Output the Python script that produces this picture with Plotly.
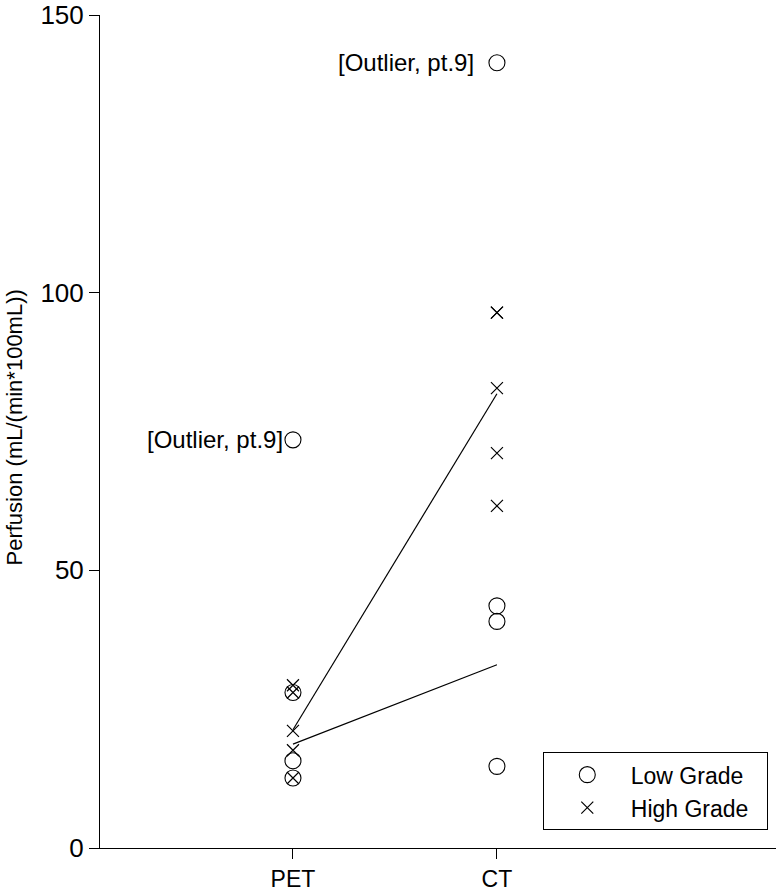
import plotly.graph_objects as go

# ---- data ----
categories = ["PET", "CT"]
cat_pos = [1, 2]

low_pet = [73.5, 28.0, 15.7, 12.6]
low_ct = [141.4, 43.6, 40.8, 14.7]
high_pet = [29.3, 28.0, 21.1, 17.6, 12.6]
high_ct = [96.4, 96.4, 82.8, 71.1, 61.6]

low_mean = [18.7, 33.0]     # mean line (outlier excluded)
high_mean = [21.3, 81.8]    # mean line

outlier_label = "[Outlier, pt.9]"
outlier_vals = [low_pet[0], low_ct[0]]
y_title = "Perfusion (mL/(min*100mL))"

FONT = "Liberation Sans, Arial, Helvetica, sans-serif"
NB = "\u00a0\u00a0"
fig = go.Figure()

fig.add_trace(go.Scatter(
    x=[cat_pos[0]] * len(low_pet) + [cat_pos[1]] * len(low_ct),
    y=low_pet + low_ct, mode="markers", name="Low Grade" + NB,
    marker=dict(symbol="circle-open", size=16, color="black",
                line=dict(width=1.1, color="black"))))
fig.add_trace(go.Scatter(
    x=[cat_pos[0]] * len(high_pet) + [cat_pos[1]] * len(high_ct),
    y=high_pet + high_ct, mode="markers", name="High Grade" + NB,
    marker=dict(symbol="x-thin-open", size=12, color="black",
                line=dict(width=1.2, color="black"))))
fig.add_trace(go.Scatter(x=cat_pos, y=high_mean, mode="lines", showlegend=False,
                         line=dict(color="black", width=1.2)))
fig.add_trace(go.Scatter(x=cat_pos, y=low_mean, mode="lines", showlegend=False,
                         line=dict(color="black", width=1.2)))

for xp, yv, sh in zip(cat_pos, outlier_vals, [-8, -21]):
    fig.add_annotation(x=xp, y=yv, text=outlier_label, showarrow=False,
                       xanchor="right", yanchor="middle", xshift=sh,
                       font=dict(family=FONT, size=24, color="black"))

# y-axis title as a rotated annotation
fig.add_annotation(x=-0.127, y=0.505, xref="paper", yref="paper",
                   text=y_title, textangle=-90, showarrow=False,
                   xanchor="center", yanchor="middle",
                   font=dict(family=FONT, size=22, color="black"))

fig.update_layout(
    width=776, height=896,
    margin=dict(l=100, r=0, t=15, b=48, autoexpand=False),
    paper_bgcolor="white", plot_bgcolor="white",
    font=dict(family=FONT, size=23, color="black"),
    showlegend=True,
    legend=dict(x=0.655, y=0.115, xanchor="left", yanchor="top",
                bgcolor="white", bordercolor="black", borderwidth=1,
                itemwidth=77, font=dict(family=FONT, size=23, color="black"),
                tracegroupgap=0),
    xaxis=dict(range=[0.054, 3.368], tickmode="array", tickvals=cat_pos,
               ticktext=categories, showline=True, linecolor="black",
               linewidth=1, ticks="outside", ticklen=10, tickcolor="black",
               showgrid=False, zeroline=False, fixedrange=True,
               tickfont=dict(family=FONT, size=23)),
    yaxis=dict(range=[0, 150], tickvals=[0, 50, 100, 150], showline=True,
               linecolor="black", linewidth=1, ticks="outside", ticklen=10,
               tickcolor="black", showgrid=False, zeroline=False,
               ticklabeloverflow="allow", fixedrange=True,
               tickfont=dict(family=FONT, size=26)),
)

fig.write_html("out.html", config={"displayModeBar": False},
               post_script="document.body.style.margin='0';"
                           "document.body.style.overflow='hidden';")
